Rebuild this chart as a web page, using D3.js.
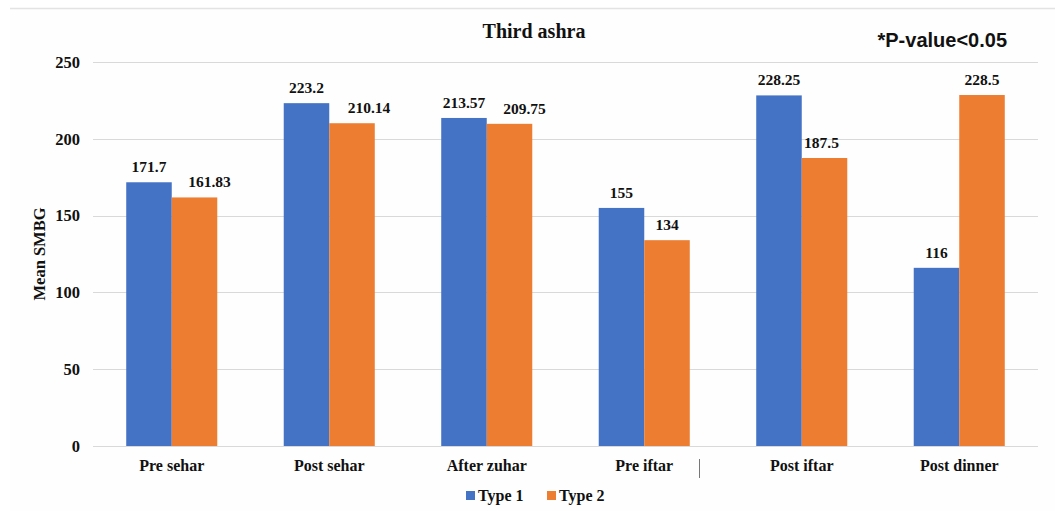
<!DOCTYPE html>
<html><head><meta charset="utf-8">
<script src="https://cdn.jsdelivr.net/npm/d3@7"></script>
<style>body{margin:0;background:#fff;}svg{display:block;}</style>
</head><body>
<svg id="chart" width="1055" height="511"></svg>
<script>
const categories = ["Pre sehar","Post sehar","After zuhar","Pre iftar","Post iftar","Post dinner"];
const seriesNames = ["Type 1","Type 2"];
const type1 = [171.7, 223.2, 213.57, 155, 228.25, 116];
const type2 = [161.83, 210.14, 209.75, 134, 187.5, 228.5];
const type1Labels = ["171.7","223.2","213.57","155","228.25","116"];
const type2Labels = ["161.83","210.14","209.75","134","187.5","228.5"];
const yTicks = [0,50,100,150,200,250];
const colors = ["#4472C4","#ED7D31"];

// label nudges (style, as placed in the original)
const type2LabelNudge = [15, 17, 15, 0, -3, 0];

const svg = d3.select("#chart");
const serif = "'Liberation Serif','Times New Roman',serif";
const margin = {left:93, right:17, top:62, bottom:65};
const W = 1055, H = 511;

svg.append("rect").attr("x",10).attr("y",8).attr("width",W-10).attr("height",H-8).attr("fill","#fefefe");
svg.append("line").attr("x1",10).attr("x2",W).attr("y1",8.5).attr("y2",8.5).attr("stroke","#e3e3e3").attr("stroke-width",1.5);

const x0 = d3.scaleBand().domain(categories).range([margin.left, W-margin.right]).padding(0);
const x1 = d3.scaleBand().domain(seriesNames).range([0, x0.bandwidth()]).paddingInner(0).paddingOuter(0.73);
const y = d3.scaleLinear().domain([0,250]).range([H-margin.bottom, margin.top]);

svg.append("g").selectAll("line").data(yTicks).join("line")
  .attr("x1",margin.left).attr("x2",W-margin.right)
  .attr("y1",d=>Math.round(y(d))+0.5).attr("y2",d=>Math.round(y(d))+0.5)
  .attr("stroke","#d9d9d9").attr("stroke-width",1.2);

const yAxis = d3.axisLeft(y).tickValues(yTicks).tickSize(0).tickPadding(13);
const gy = svg.append("g").attr("transform",`translate(${margin.left},0)`).call(yAxis);
gy.select(".domain").remove();
gy.selectAll("text").attr("font-family",serif).attr("font-weight","bold").attr("font-size","16.5px").attr("fill","#111");

const data = categories.map((c,i)=>({cat:c, vals:[type1[i],type2[i]], labels:[type1Labels[i],type2Labels[i]], nudge:[0,type2LabelNudge[i]]}));
const groups = svg.append("g").selectAll("g").data(data).join("g")
  .attr("transform",d=>`translate(${x0(d.cat)},0)`);
groups.selectAll("rect").data(d=>d.vals.map((v,j)=>({v,j}))).join("rect")
  .attr("x",d=>x1(seriesNames[d.j])).attr("width",x1.bandwidth())
  .attr("y",d=>y(d.v)).attr("height",d=>y(0)-y(d.v))
  .attr("fill",d=>colors[d.j]);
groups.selectAll("text").data(d=>d.vals.map((v,j)=>({v,j,l:d.labels[j],n:d.nudge[j]}))).join("text")
  .attr("x",d=>x1(seriesNames[d.j])+x1.bandwidth()/2+d.n)
  .attr("y",d=>y(d.v)-10)
  .attr("text-anchor","middle")
  .attr("font-family",serif).attr("font-weight","bold").attr("font-size","15.5px").attr("fill","#111")
  .text(d=>d.l);

const xAxis = d3.axisBottom(x0).tickSize(0).tickPadding(14);
const gx = svg.append("g").attr("transform",`translate(0,${y(0)})`).call(xAxis);
gx.select(".domain").remove();
gx.selectAll("text").attr("font-family",serif).attr("font-weight","bold").attr("font-size","16px").attr("fill","#111");

svg.append("line").attr("x1",699.5).attr("x2",699.5).attr("y1",459).attr("y2",478).attr("stroke","#777").attr("stroke-width",1);

svg.append("text").attr("x",534).attr("y",38).attr("text-anchor","middle")
  .attr("font-family",serif).attr("font-weight","bold").attr("font-size","20px").attr("fill","#111").text("Third ashra");
svg.append("text").attr("x",1007).attr("y",47).attr("text-anchor","end")
  .attr("font-family","'Liberation Sans',Arial,sans-serif").attr("font-weight","bold").attr("font-size","20px").attr("fill","#111").text("*P-value<0.05");

svg.append("text").attr("transform",`translate(45,${(y(0)+y(250))/2}) rotate(-90)`).attr("text-anchor","middle")
  .attr("font-family",serif).attr("font-weight","bold").attr("font-size","16.5px").attr("fill","#111").text("Mean SMBG");

const legend = svg.append("g").attr("transform","translate(466,491)");
const legX = [0, 81];
seriesNames.forEach((s,i)=>{
  const g = legend.append("g").attr("transform",`translate(${legX[i]},0)`);
  g.append("rect").attr("x",0).attr("y",0).attr("width",9).attr("height",9).attr("fill",colors[i]);
  g.append("text").attr("x",12).attr("y",10).attr("font-family",serif).attr("font-weight","bold").attr("font-size","16px").attr("fill","#111").text(s);
});
</script>
</body></html>
